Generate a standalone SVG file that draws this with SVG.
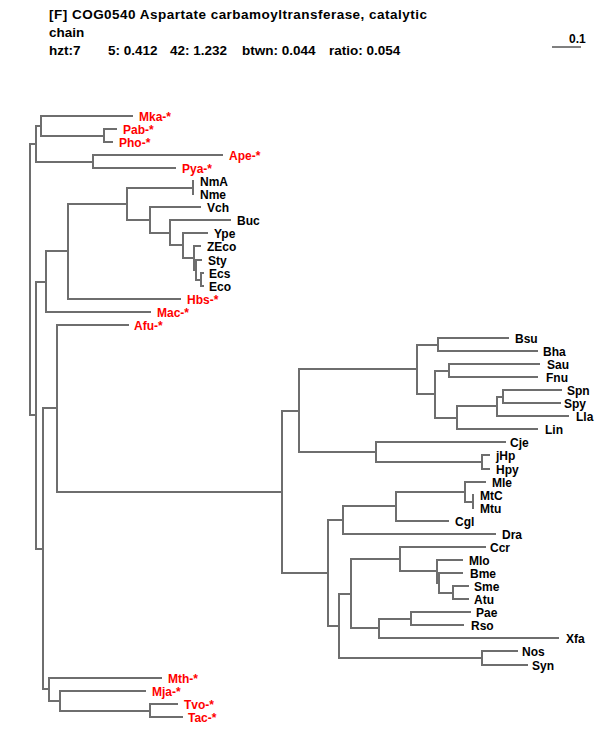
<svg xmlns="http://www.w3.org/2000/svg" width="600" height="750" viewBox="0 0 600 750">
<style>
text{font-family:"Liberation Sans",Arial,sans-serif;font-weight:bold;font-size:12px}
.h{font-size:13.5px;fill:#000}
.r{fill:#ff0000}
.k{fill:#000}
.t{fill:none;stroke:#6e6e6e;stroke-width:2;stroke-linecap:square}
</style>
<rect width="600" height="750" fill="#fff"/>
<g id="header">
<text class="h" x="49" y="19" textLength="378" lengthAdjust="spacing">[F] COG0540 Aspartate carbamoyltransferase, catalytic</text>
<text class="h" x="49" y="37">chain</text>
<text class="h" x="49" y="55">hzt:7</text>
<text class="h" x="108" y="55">5: 0.412</text>
<text class="h" x="170" y="55">42: 1.232</text>
<text class="h" x="242" y="55">btwn: 0.044</text>
<text class="h" x="329" y="55">ratio: 0.054</text>
</g>
<g id="scalebar">
<line x1="552" y1="47" x2="581" y2="47" stroke="#000" stroke-width="1"/>
<text class="k" x="569" y="43">0.1</text>
</g>
<g id="connectors" class="t">
<path d="M30 144V415M30 144H36M36 126V162M36 126H41M41 116V136M41 116H132M41 136H104M104 129V142M104 129H116M104 142H112M36 162H93M93 155V168M93 155H222M93 168H175"/>
<path d="M30 415H36M36 282V549M36 282H46M46 251V312M46 312H150M46 251H68M68 204V299M68 299H180M68 204H127M127 188V220M127 188H193M193 181V194M127 220H150M150 207V233M150 207H200M150 233H170M170 220V245M170 220H230M170 245H183M183 233V258M183 233H207M183 258H194M194 246V270M194 246H200M194 270H196M196 260V280M196 260H201M196 280H201M201 273V286M201 273H203M201 286H203"/>
<path d="M36 549H43M43 408V689M43 408H57M57 325V492M57 325H128M57 492H282M282 411V573M282 411H299M299 369V452M299 369H417M417 345V394M417 345H438M438 338V351M438 338H508M438 351H537M417 394H435M435 371V418M435 371H449M449 364V377M449 364H539M449 377H537M435 418H457M457 406V429M457 429H537M457 406H497M497 397V416M497 416H568M497 397H503M503 390V403M503 390H561M503 403H560M299 452H376M376 442V462M376 442H505M376 462H482M482 455V469M482 455H489M482 469H489"/>
<path d="M282 573H328M328 520V626M328 520H343M343 506V534M343 534H495M343 506H396M396 492V521M396 521H448M396 492H465M465 482V502M465 482H485M465 502H473M473 495V508M328 626H339M339 594V658M339 658H482M482 651V665M482 651H517M482 665H527M339 594H351M351 559V628M351 559H400M400 547V571M400 547H485M400 571H437M437 560V583M437 560H462M437 583H439M439 573V593M439 573H462M439 593H453M453 586V599M453 586H468M453 599H468M351 628H379M379 619V638M379 619H411M411 612V625M411 612H470M411 625H463M379 638H558"/>
<path d="M43 689H49M49 678V701M49 678H161M49 701H60M60 691V711M60 691H145M60 711H150M150 704V717M150 704H177M150 717H182"/>
</g>
<g id="leaf-Mka"><text class="r" x="139" y="121">Mka-*</text></g>
<g id="leaf-Pab"><text class="r" x="123" y="134">Pab-*</text></g>
<g id="leaf-Pho"><text class="r" x="119" y="147">Pho-*</text></g>
<g id="leaf-Ape"><text class="r" x="229" y="160">Ape-*</text></g>
<g id="leaf-Pya"><text class="r" x="182" y="173">Pya-*</text></g>
<g id="leaf-NmA"><text class="k" x="200" y="186">NmA</text></g>
<g id="leaf-Nme"><text class="k" x="200" y="199">Nme</text></g>
<g id="leaf-Vch"><text class="k" x="207" y="212">Vch</text></g>
<g id="leaf-Buc"><text class="k" x="237" y="225">Buc</text></g>
<g id="leaf-Ype"><text class="k" x="214" y="238">Ype</text></g>
<g id="leaf-ZEco"><text class="k" x="207" y="251">ZEco</text></g>
<g id="leaf-Sty"><text class="k" x="208" y="265">Sty</text></g>
<g id="leaf-Ecs"><text class="k" x="209" y="278">Ecs</text></g>
<g id="leaf-Eco"><text class="k" x="209" y="291">Eco</text></g>
<g id="leaf-Hbs"><text class="r" x="187" y="304">Hbs-*</text></g>
<g id="leaf-Mac"><text class="r" x="157" y="317">Mac-*</text></g>
<g id="leaf-Afu"><text class="r" x="134" y="330">Afu-*</text></g>
<g id="leaf-Bsu"><text class="k" x="515" y="343">Bsu</text></g>
<g id="leaf-Bha"><text class="k" x="543" y="356">Bha</text></g>
<g id="leaf-Sau"><text class="k" x="547" y="369">Sau</text></g>
<g id="leaf-Fnu"><text class="k" x="546" y="382">Fnu</text></g>
<g id="leaf-Spn"><text class="k" x="567" y="395">Spn</text></g>
<g id="leaf-Spy"><text class="k" x="564" y="408">Spy</text></g>
<g id="leaf-Lla"><text class="k" x="576" y="421">Lla</text></g>
<g id="leaf-Lin"><text class="k" x="545" y="434">Lin</text></g>
<g id="leaf-Cje"><text class="k" x="510" y="447">Cje</text></g>
<g id="leaf-jHp"><text class="k" x="496" y="460">jHp</text></g>
<g id="leaf-Hpy"><text class="k" x="496" y="474">Hpy</text></g>
<g id="leaf-Mle"><text class="k" x="492" y="487">Mle</text></g>
<g id="leaf-MtC"><text class="k" x="480" y="500">MtC</text></g>
<g id="leaf-Mtu"><text class="k" x="480" y="513">Mtu</text></g>
<g id="leaf-Cgl"><text class="k" x="455" y="526">Cgl</text></g>
<g id="leaf-Dra"><text class="k" x="502" y="539">Dra</text></g>
<g id="leaf-Ccr"><text class="k" x="490" y="552">Ccr</text></g>
<g id="leaf-Mlo"><text class="k" x="469" y="565">Mlo</text></g>
<g id="leaf-Bme"><text class="k" x="470" y="578">Bme</text></g>
<g id="leaf-Sme"><text class="k" x="474" y="591">Sme</text></g>
<g id="leaf-Atu"><text class="k" x="474" y="604">Atu</text></g>
<g id="leaf-Pae"><text class="k" x="476" y="617">Pae</text></g>
<g id="leaf-Rso"><text class="k" x="471" y="630">Rso</text></g>
<g id="leaf-Xfa"><text class="k" x="566" y="643">Xfa</text></g>
<g id="leaf-Nos"><text class="k" x="522" y="656">Nos</text></g>
<g id="leaf-Syn"><text class="k" x="532" y="670">Syn</text></g>
<g id="leaf-Mth"><text class="r" x="168" y="683">Mth-*</text></g>
<g id="leaf-Mja"><text class="r" x="152" y="696">Mja-*</text></g>
<g id="leaf-Tvo"><text class="r" x="184" y="709">Tvo-*</text></g>
<g id="leaf-Tac"><text class="r" x="188" y="722">Tac-*</text></g>
</svg>
